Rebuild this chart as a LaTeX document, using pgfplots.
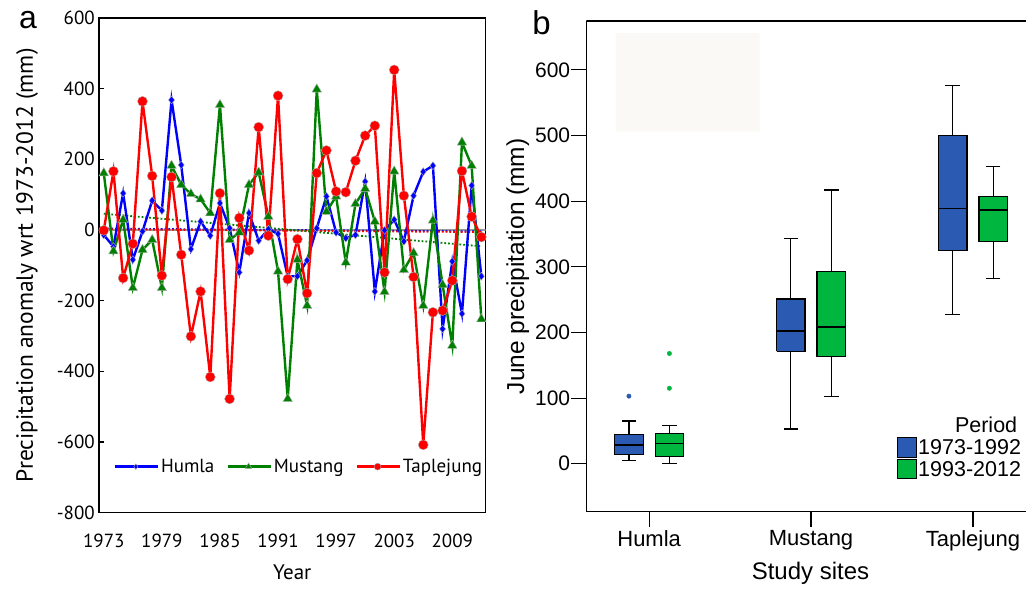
\documentclass[border=0pt]{standalone}
\usepackage{pgfplots}
\pgfplotsset{compat=1.18}
\usepackage{fontspec}
\setmainfont{Liberation Sans}
\newfontfamily\myr{PT Sans}

\definecolor{hblue}{RGB}{0,0,255}
\definecolor{mgreen}{RGB}{0,128,0}
\definecolor{tred}{RGB}{255,0,0}
\definecolor{bblue}{RGB}{42,90,178}
\definecolor{bgreen}{RGB}{0,182,62}
\definecolor{boxbg}{RGB}{251,249,245}

% one box: centre, left, right, lower whisker, Q1, median, Q3, upper whisker, colour
\newcommand{\bx}[9]{%
  \addplot[black, line width=1.2pt, mark=-, mark size=7.25pt, forget plot] coordinates {(#1,#4) (#1,#5)};
  \addplot[black, line width=1.2pt, mark=-, mark size=7.25pt, forget plot] coordinates {(#1,#7) (#1,#8)};
  \addplot[fill=#9, draw=black, line width=1.2pt, forget plot] coordinates {(#2,#5) (#3,#5) (#3,#7) (#2,#7) (#2,#5)};
  \addplot[black, line width=1.6pt, forget plot] coordinates {(#2,#6) (#3,#6)};
}

\begin{document}
\begin{tikzpicture}
\path (0pt,0pt) rectangle (1027pt,588pt);

% ---- panel a: anomalies
\begin{axis}[
    at={(99pt,75pt)}, anchor=south west,
    scale only axis, width=387pt, height=495pt,
    xmin=1972.5, xmax=2012.45, ymin=-800, ymax=600,
    xtick={1973,1979,...,2009}, ytick={-800,-600,...,600},
    xtick style={draw=none},
    ytick pos=left, tick align=inside, major tick length=5pt,
    /pgf/number format/1000 sep={},
    /pgf/number format/assume math mode=true,
    ticklabel style={font=\myr\fontsize{19}{22}\selectfont},
    yticklabel style={inner sep=0pt, xshift=-4pt},
    xticklabel style={inner sep=0pt, yshift=-21pt},
    axis line style={line width=1.3pt},
    every tick/.style={black, line width=1.2pt},
    xlabel={Year}, ylabel={Precipitation anomaly wrt 1973-2012 (mm)},
    every axis x label/.style={at={(axis description cs:0.5,-0.1212)}, anchor=center, font=\myr\fontsize{21}{24}\selectfont},
    every axis y label/.style={at={(axis description cs:-0.186,0.5)}, rotate=90, anchor=center, font=\myr\fontsize{23.5}{26}\selectfont},
    legend columns=3,
    legend style={at={(0.517,0.093)}, anchor=center, draw=none, fill=none,
        font=\myr\fontsize{19}{22}\selectfont,
        /tikz/every even column/.append style={column sep=10pt}},
    legend image code/.code={\draw[#1, mark repeat=2, mark phase=2, /tikz/every mark/.append style={scale=0.7}] plot coordinates {(0pt,0pt) (21pt,0pt) (43pt,0pt)};},
]
\addplot[gray!80, line width=1.3pt, forget plot] coordinates {(1972.5,0) (2012.45,0)};
\addplot[hblue, dotted, line width=1.8pt, forget plot] coordinates {(1973,4) (2012,-4)};
\addplot[tred, dotted, line width=1.8pt, forget plot] coordinates {(1973,2) (2012,-6)};
\addplot[mgreen, dotted, line width=1.8pt, forget plot] coordinates {(1973,46) (2012,-46)};

\addplot[hblue, line width=2.4pt, mark=diamond*, mark size=4pt,
    mark options={solid, fill=hblue, draw=gray!60, line width=0.4pt}] coordinates {
(1973,-14) (1974,-47) (1975,104) (1976,-84) (1977,-4) (1978,83) (1979,55) (1980,368)
(1981,184) (1982,-54) (1983,24) (1984,-16) (1985,76) (1986,5) (1987,-120) (1988,48)
(1989,-30) (1990,2) (1991,-11) (1992,-131) (1993,-131) (1994,-86) (1995,5) (1996,95)
(1997,-7) (1998,-23) (1999,-14) (2000,137) (2001,-174) (2002,-1) (2003,29) (2004,-32)
(2005,97) (2006,165) (2007,182) (2008,-280) (2009,-89) (2010,-237) (2011,126) (2012,-131)
};
\addlegendentry{Humla}
\addplot[mgreen, line width=2.4pt, mark=triangle*, mark size=5.5pt,
    mark options={solid, fill=mgreen, draw=gray!60, line width=0.4pt}] coordinates {
(1973,161) (1974,-60) (1975,29) (1976,-164) (1977,-56) (1978,-28) (1979,-164) (1980,182)
(1981,128) (1982,102) (1983,87) (1984,48) (1985,354) (1986,-28) (1987,-7) (1988,128)
(1989,163) (1990,38) (1991,-117) (1992,-478) (1993,-84) (1994,-214) (1995,398) (1996,52)
(1997,95) (1998,-92) (1999,74) (2000,117) (2001,24) (2002,-175) (2003,166) (2004,-113)
(2005,-65) (2006,-214) (2007,27) (2008,-155) (2009,-327) (2010,248) (2011,182) (2012,-252)
};
\addlegendentry{Mustang}
\addplot[tred, line width=2.4pt, mark=*, mark size=5pt,
    mark options={solid, fill=tred, draw=gray!60, line width=0.4pt}] coordinates {
(1973,-1) (1974,166) (1975,-136) (1976,-39) (1977,364) (1978,153) (1979,-129) (1980,150)
(1981,-70) (1982,-301) (1983,-174) (1984,-416) (1985,104) (1986,-478) (1987,34) (1988,-58)
(1989,291) (1990,-16) (1991,380) (1992,-139) (1993,-26) (1994,-179) (1995,161) (1996,225)
(1997,109) (1998,107) (1999,196) (2000,267) (2001,295) (2002,-120) (2003,453) (2004,97)
(2005,-133) (2006,-608) (2007,-233) (2008,-228) (2009,-143) (2010,167) (2011,38) (2012,-20)
};
\addlegendentry{Taplejung}
\end{axis}
\node[font=\fontsize{32}{36}\selectfont, inner sep=0pt] at (28pt,568pt) {a};

% ---- panel b: box plots (right edge of the frame is cut off in the reference)
\begin{axis}[
    at={(586.7pt,76pt)}, anchor=south west,
    scale only axis, width=440.3pt, height=491pt,
    xmin=0.612, xmax=3.33, ymin=-73, ymax=674.5,
    axis lines=left, axis line style={-, line width=1.3pt},
    xtick={1,2,3}, xticklabels={Humla,Mustang,Taplejung},
    ytick={0,100,...,600},
    tick align=outside, major tick length=15pt,
    /pgf/number format/assume math mode=true,
    ticklabel style={font=\fontsize{21}{24}\selectfont},
    yticklabel style={inner sep=0pt, xshift=-1pt},
    xticklabel style={inner sep=0pt, yshift=-4pt, font=\fontsize{22}{25}\selectfont},
    every tick/.style={black, line width=1.2pt},
    xlabel={Study sites}, ylabel={June precipitation (mm)},
    every axis x label/.style={at={(axis description cs:0.5094,-0.1263)}, anchor=center, font=\fontsize{24}{28}\selectfont},
    every axis y label/.style={at={(axis description cs:-0.156,0.5)}, rotate=90, anchor=center, font=\fontsize{24.5}{28}\selectfont},
    legend style={at={(0.705,0.2016)}, anchor=north west, draw=none, fill=none,
        font=\fontsize{21.5}{24}\selectfont, inner xsep=0pt,
        nodes={inner xsep=1.5pt}, row sep=1pt},
    legend image code/.code={\draw[#1, line width=1pt] (0pt,-9.5pt) rectangle (19pt,10pt);},
]
\draw[line width=1.3pt] (rel axis cs:0,1) -- (rel axis cs:1,1);
\addplot[draw=none, fill=boxbg, forget plot] coordinates {(0.793,506) (1.682,506) (1.682,656) (0.793,656) (0.793,506)};

\bx{0.875}{0.787}{0.963}{5}{14}{29}{44}{65}{bblue}
\bx{1.125}{1.037}{1.213}{0}{11}{31}{46}{58}{bgreen}
\bx{1.875}{1.787}{1.963}{53}{171}{202}{251}{343}{bblue}
\bx{2.125}{2.037}{2.213}{103}{163}{208}{293}{417}{bgreen}
\bx{2.875}{2.787}{2.963}{227}{325}{389}{500}{576}{bblue}
\bx{3.125}{3.037}{3.213}{282}{338}{387}{407}{453}{bgreen}
\addplot[only marks, mark=*, mark size=2.2pt, bblue, forget plot] coordinates {(0.875,103)};
\addplot[only marks, mark=*, mark size=2.2pt, bgreen, forget plot] coordinates {(1.125,115) (1.125,168)};

\addlegendimage{empty legend}
\addlegendentry{\hspace{33pt}Period}
\addlegendimage{fill=bblue, draw=black}
\addlegendentry{1973-1992}
\addlegendimage{fill=bgreen, draw=black}
\addlegendentry{1993-2012}
\end{axis}
\node[font=\fontsize{33}{36}\selectfont, inner sep=0pt] at (542pt,565pt) {b};
\end{tikzpicture}
\end{document}
